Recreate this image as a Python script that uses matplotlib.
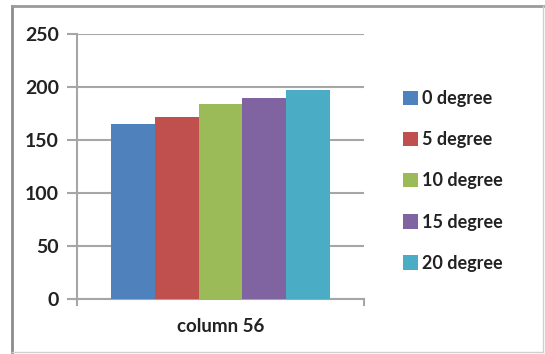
import matplotlib
matplotlib.use("Agg")
import matplotlib.pyplot as plt
from matplotlib.lines import Line2D
from matplotlib.patches import Patch

# bar values for column 56 at each angle
series = ["0 degree", "5 degree", "10 degree", "15 degree", "20 degree"]
values = [165, 172, 184, 190, 197]
colors = ["#4F81BD", "#C0504D", "#9BBB59", "#8064A2", "#4BACC6"]
category = "column 56"
yticks = [0, 50, 100, 150, 200, 250]

plt.rcParams["font.family"] = ["Lato", "DejaVu Sans"]

fig = plt.figure(figsize=(5.45, 3.54), dpi=100)
W, H = 545.0, 354.0
ax = fig.add_axes([77 / W, 1 - 299 / H, (364 - 77) / W, (299 - 34) / H])

width = 0.153
n = len(values)
for i, (v, c) in enumerate(zip(values, colors)):
    x = (i - (n - 1) / 2) * width
    ax.bar(x, v, width=width, color=c, edgecolor="none", zorder=3)

ax.set_xlim(-0.5, 0.5)
ax.set_ylim(0, 250)
ax.set_yticks(yticks)
ax.set_yticklabels([str(t) for t in yticks], fontsize=14, fontweight="bold", color="#222222")
ax.set_xticks([])
ax.grid(axis="y", color="#a6a6a6", linewidth=1.5, zorder=0)
for s in ["top", "right"]:
    ax.spines[s].set_visible(False)
ax.spines["left"].set_color("#a6a6a6")
ax.spines["bottom"].set_color("#a6a6a6")
ax.spines["left"].set_linewidth(1.5)
ax.spines["bottom"].set_linewidth(1.5)
ax.tick_params(axis="y", length=7, width=1.5, color="#a6a6a6", pad=6)

# small tick marks below the category axis at both ends
for xe in (-0.5, 0.5):
    ax.plot([xe, xe], [0, -6], color="#a6a6a6", lw=1.5, clip_on=False, zorder=4)

ax.text(0, -26, category, ha="center", va="center", fontsize=13.5,
        fontweight="bold", color="#222222")

handles = [Patch(facecolor=c, edgecolor="none") for c in colors]
leg = fig.legend(handles, series, loc="upper left", bbox_to_anchor=(394 / W, 1 - 81 / H),
                 frameon=False, fontsize=13, handlelength=0.85, handleheight=0.85,
                 handletextpad=0.2, labelspacing=1.34, borderpad=0)
for t in leg.get_texts():
    t.set_fontweight("bold")
    t.set_color("#222222")

# outer chart border
fig.add_artist(Line2D([11.5 / W, 11.5 / W], [1 - 6 / H, 1 - 352 / H], color="#8c8c8c", lw=2))
fig.add_artist(Line2D([11.5 / W, 543 / W], [1 - 6 / H, 1 - 6 / H], color="#9a9a9a", lw=2))
fig.add_artist(Line2D([543 / W, 543 / W], [1 - 6 / H, 1 - 352 / H], color="#d0d0d0", lw=1))
fig.add_artist(Line2D([11.5 / W, 543 / W], [1 - 352 / H, 1 - 352 / H], color="#d0d0d0", lw=1))

fig.savefig("out.png", dpi=100)
